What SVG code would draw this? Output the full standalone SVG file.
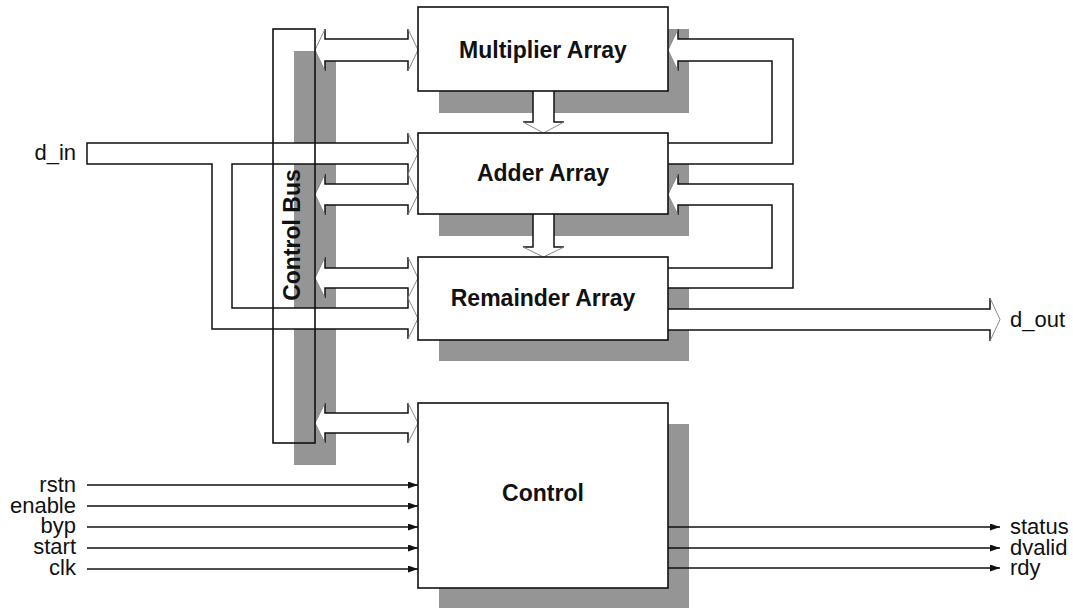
<svg xmlns="http://www.w3.org/2000/svg" width="1073" height="608" viewBox="0 0 1073 608">
<style>
.sh{fill:#959595;stroke:none}
.box{fill:#fff;stroke:#111;stroke-width:1.6}
.bf{fill:#fff;stroke:none}
.bk{fill:none;stroke:#111;stroke-width:1.5;stroke-linejoin:miter}
.gy{fill:none;stroke:#8a8a8a;stroke-width:1}
.sig{fill:none;stroke:#111;stroke-width:1.4}
.t{font-family:"Liberation Sans",Arial,Helvetica,sans-serif;font-size:22px;fill:#111}
.tb{font-family:"Liberation Sans",Arial,Helvetica,sans-serif;font-size:23px;font-weight:bold;fill:#111;text-anchor:middle}
</style>
<defs>
<marker id="ah" markerUnits="userSpaceOnUse" markerWidth="11" markerHeight="8" refX="10" refY="3.5" orient="auto">
<path d="M0,0 L10,3.5 L0,7 z" fill="#111"/>
</marker>
</defs>

<g id="shadows">
<rect class="sh" x="294" y="51" width="42" height="414"/>
<rect class="sh" x="439" y="29" width="250" height="84"/>
<rect class="sh" x="439" y="155" width="250" height="81"/>
<rect class="sh" x="439" y="278" width="250" height="83"/>
<rect class="sh" x="439" y="424" width="250" height="190"/>
</g>

<g id="connectors">
<!-- d_in bus -->
<path class="bf" d="M87,143 L408,143 L408,133 L418,153.5 L408,174 L408,164 L232,164 L232,308 L408,308 L408,298 L418,318.5 L408,339 L408,329 L212,329 L212,164 L87,164 Z"/>
<path class="bk" d="M408,133 L408,143 L87,143 L87,164 L212,164 L212,329 L408,329 L408,339 M408,298 L408,308 L232,308 L232,164 L408,164 L408,174"/>
<path class="gy" d="M408,133 L418,153.5 L408,174 M408,298 L418,318.5 L408,339"/>

<!-- control bus <-> multiplier -->
<path class="bf" d="M315,50 L325,29 L325,39 L408,39 L408,29 L418,50 L408,71 L408,61 L325,61 L325,71 Z"/>
<path class="bk" d="M325,29 L325,39 L408,39 L408,29 M325,71 L325,61 L408,61 L408,71"/>
<path class="gy" d="M325,29 L315,50 L325,71 M408,29 L418,50 L408,71"/>

<!-- control bus <-> adder -->
<path class="bf" d="M315,194.5 L325,174 L325,184 L408,184 L408,174 L418,194.5 L408,215 L408,205 L325,205 L325,215 Z"/>
<path class="bk" d="M325,174 L325,184 L408,184 L408,174 M325,215 L325,205 L408,205 L408,215"/>
<path class="gy" d="M325,174 L315,194.5 L325,215 M408,174 L418,194.5 L408,215"/>

<!-- control bus <-> remainder -->
<path class="bf" d="M315,278 L325,257 L325,268 L408,268 L408,257 L418,278 L408,298 L408,288 L325,288 L325,298 Z"/>
<path class="bk" d="M325,257 L325,268 L408,268 L408,257 M325,298 L325,288 L408,288 L408,298"/>
<path class="gy" d="M325,257 L315,278 L325,298 M408,257 L418,278 L408,298"/>

<!-- control bus <-> control -->
<path class="bf" d="M315,423 L325,403 L325,413 L408,413 L408,403 L418,423 L408,443 L408,433 L325,433 L325,443 Z"/>
<path class="bk" d="M325,403 L325,413 L408,413 L408,403 M325,443 L325,433 L408,433 L408,443"/>
<path class="gy" d="M325,403 L315,423 L325,443 M408,403 L418,423 L408,443"/>

<!-- multiplier -> adder -->
<path class="bf" d="M533,91 L533,122 L523,122 L543.5,133 L564,122 L554,122 L554,91 Z"/>
<path class="bk" d="M533,91 L533,122 L523,122 M564,122 L554,122 L554,91"/>
<path class="gy" d="M523,122 L543.5,133 L564,122"/>

<!-- adder -> remainder -->
<path class="bf" d="M533,214 L533,247 L523,247 L543.5,257 L564,247 L554,247 L554,214 Z"/>
<path class="bk" d="M533,214 L533,247 L523,247 M564,247 L554,247 L554,214"/>
<path class="gy" d="M523,247 L543.5,257 L564,247"/>

<!-- adder -> multiplier feedback -->
<path class="bf" d="M668,143 L772,143 L772,61 L678,61 L678,71 L668,50 L678,29 L678,39 L793,39 L793,164 L668,164 Z"/>
<path class="bk" d="M668,143 L772,143 L772,61 L678,61 L678,71 M678,29 L678,39 L793,39 L793,164 L668,164"/>
<path class="gy" d="M678,71 L668,50 L678,29"/>

<!-- remainder -> adder feedback -->
<path class="bf" d="M668,268 L772,268 L772,205 L678,205 L678,215 L668,194.5 L678,174 L678,184 L793,184 L793,288 L668,288 Z"/>
<path class="bk" d="M668,268 L772,268 L772,205 L678,205 L678,215 M678,174 L678,184 L793,184 L793,288 L668,288"/>
<path class="gy" d="M678,215 L668,194.5 L678,174"/>

<!-- d_out -->
<path class="bf" d="M668,309 L990,309 L990,298 L1000,319.5 L990,341 L990,330 L668,330 Z"/>
<path class="bk" d="M668,309 L990,309 L990,298 M990,341 L990,330 L668,330"/>
<path class="gy" d="M990,298 L1000,319.5 L990,341"/>

<!-- control inputs -->
<line class="sig" x1="87" y1="485" x2="418" y2="485" marker-end="url(#ah)"/>
<line class="sig" x1="87" y1="506" x2="418" y2="506" marker-end="url(#ah)"/>
<line class="sig" x1="87" y1="527" x2="418" y2="527" marker-end="url(#ah)"/>
<line class="sig" x1="87" y1="548" x2="418" y2="548" marker-end="url(#ah)"/>
<line class="sig" x1="87" y1="569" x2="418" y2="569" marker-end="url(#ah)"/>
<!-- control outputs -->
<line class="sig" x1="668" y1="527" x2="1000" y2="527" marker-end="url(#ah)"/>
<line class="sig" x1="668" y1="548" x2="1000" y2="548" marker-end="url(#ah)"/>
<line class="sig" x1="668" y1="568" x2="1000" y2="568" marker-end="url(#ah)"/>
</g>

<g id="control-bus">
<rect x="273" y="29" width="42" height="414" fill="none" stroke="#111" stroke-width="1.6"/>
<text class="tb" transform="translate(300,235) rotate(-90)">Control Bus</text>
</g>

<g id="multiplier-array">
<rect class="box" x="418" y="7" width="250" height="84"/>
<text class="tb" x="543" y="58">Multiplier Array</text>
</g>

<g id="adder-array">
<rect class="box" x="418" y="133" width="250" height="81"/>
<text class="tb" x="543" y="181">Adder Array</text>
</g>

<g id="remainder-array">
<rect class="box" x="418" y="257" width="250" height="83"/>
<text class="tb" x="543" y="306">Remainder Array</text>
</g>

<g id="control">
<rect class="box" x="418" y="403" width="250" height="185"/>
<text class="tb" x="543" y="501">Control</text>
</g>

<g id="labels">
<text class="t" x="76" y="160" text-anchor="end">d_in</text>
<text class="t" x="1010" y="327">d_out</text>
<text class="t" x="76" y="492" text-anchor="end">rstn</text>
<text class="t" x="76" y="513" text-anchor="end">enable</text>
<text class="t" x="76" y="533" text-anchor="end">byp</text>
<text class="t" x="76" y="554" text-anchor="end">start</text>
<text class="t" x="76" y="575" text-anchor="end">clk</text>
<text class="t" x="1010" y="534">status</text>
<text class="t" x="1010" y="555">dvalid</text>
<text class="t" x="1010" y="575">rdy</text>
</g>
</svg>
